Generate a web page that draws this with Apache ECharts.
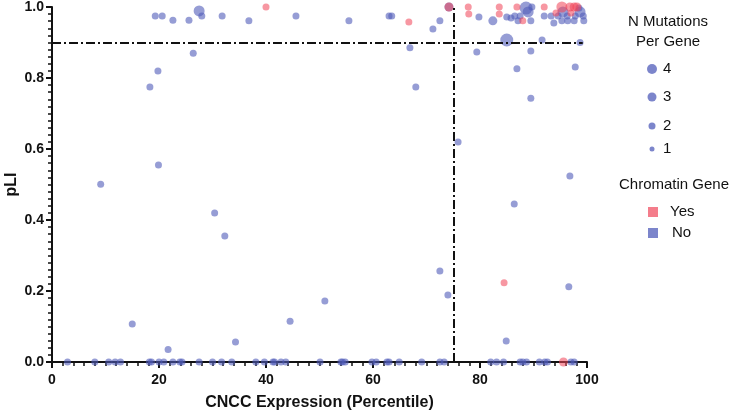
<!DOCTYPE html>
<html><head><meta charset="utf-8">
<script src="https://cdn.jsdelivr.net/npm/echarts@6/dist/echarts.min.js"></script>
<style>html,body{margin:0;padding:0;background:#fff}#c{width:733px;height:413px}</style>
</head><body><div id="c"></div>
<script>
// Chromatin gene = No (blue)
const noX = [19.3,20.6,22.6,25.6,27.5,28.0,31.8,36.8,45.6,55.5,63.0,63.5,72.5,71.2,74.2,
  26.4,19.8,18.3,66.9,68.0,79.4,86.9,89.5,89.5,91.6,98.7,97.8,75.9,96.8,86.4,72.5,96.6,74.0,51.0,84.9,9.1,19.9,30.4,32.3,15.0,34.3,44.5,21.7,
  85.0,
  79.8,82.4,85.0,85.8,86.5,87.5,87.1,88.6,89.0,89.7,89.5,92.0,93.3,93.8,94.6,95.3,95.5,96.3,96.4,97.6,97.8,98.5,98.7,99.3,99.4,
  2.9,8.0,10.6,11.8,12.8,18.2,18.6,20.0,20.9,22.6,23.9,24.3,27.5,30.0,31.7,33.6,38.1,39.7,41.3,41.6,42.8,43.7,
  50.1,54.0,54.3,54.8,59.8,60.6,62.6,63.0,64.9,69.1,72.5,73.3,82.0,83.1,84.4,87.5,88.0,88.7,91.1,92.1,92.6,97.0,97.6];
const noY = [0.975,0.975,0.963,0.963,0.989,0.975,0.975,0.961,0.975,0.961,0.975,0.975,0.961,0.938,1.0,
  0.870,0.820,0.775,0.885,0.775,0.873,0.826,0.876,0.743,0.907,0.900,0.831,0.620,0.524,0.445,0.256,0.212,0.189,0.172,0.059,0.501,0.555,0.420,0.355,0.107,0.056,0.115,0.035,
  0.907,
  0.972,0.961,0.972,0.969,0.975,0.975,0.961,0.997,0.986,1.0,0.961,0.975,0.975,0.955,0.975,0.961,0.986,0.975,0.961,0.961,0.975,0.997,0.986,0.975,0.961,
  0,0,0,0,0,0,0,0,0,0,0,0,0,0,0,0,0,0,0,0,0,0,
  0,0,0,0,0,0,0,0,0,0,0,0,0,0,0,0,0,0,0,0,0,0,0];
const noN = [1,1,1,1,3,1,1,1,1,1,1,1,1,1,2,
  1,1,1,1,1,1,1,1,1,1,1,1,1,1,1,1,1,1,1,1,1,1,1,1,1,1,1,1,
  4,
  1,2,1,1,1,1,1,4,3,1,1,1,1,1,1,1,3,1,1,1,1,1,3,1,1,
  1,1,1,1,1,1,1,1,1,1,1,1,1,1,1,1,1,1,1,1,1,1,
  1,1,1,1,1,1,1,1,1,1,1,1,1,1,1,1,1,1,1,1,1,1,1];
// Chromatin gene = Yes (red)
const yesX = [40.0,66.7,74.2,77.8,77.9,83.6,83.6,84.5,86.9,88.0,92.0,94.2,95.3,96.8,97.0,97.6,98.1,95.6];
const yesY = [1.0,0.958,1.0,1.0,0.98,1.0,0.98,0.223,1.0,0.961,1.0,0.983,1.0,1.0,0.983,1.0,1.0,0];
const yesN = [1,1,2,1,1,1,1,1,1,1,1,1,3,2,1,2,2,2];
const xTicks = [0,20,40,60,80,100];
const yTicks = [0.0,0.2,0.4,0.6,0.8,1.0];
const sizeLegend = [4,3,2,1];
const chromLegend = ['Yes','No'];

const BLUE = 'rgba(80,92,185,0.75)';
const RED = 'rgba(240,70,90,0.7)';
const sizeOf = n => [0,7,9,11,13][n];
const pts = (xs,ys,ns) => xs.map((x,i)=>[x,ys[i],ns[i]]);

const chart = echarts.init(document.getElementById('c'));
const FONT = 'Liberation Sans';
const txt = (x,y,text,align) => ({type:'text',x:x,y:y,style:{text:text,fill:'#111',fontFamily:FONT,fontSize:15,align:align||'left',lineHeight:20}});
const legendCircle = {4:10,3:9,2:7,1:5};
const legendY = {4:69,3:97,2:126,1:149};
const graphics = [];
graphics.push(txt(668,12,'N Mutations\nPer Gene','center'));
sizeLegend.forEach(n=>{
  graphics.push({type:'circle',shape:{cx:652,cy:legendY[n],r:legendCircle[n]/2},style:{fill:BLUE}});
  graphics.push(txt(663,legendY[n]-10,String(n)));
});
graphics.push(txt(674,175,'Chromatin Gene','center'));
graphics.push({type:'rect',shape:{x:648,y:207,width:10,height:10},style:{fill:RED}});
graphics.push(txt(670,202,chromLegend[0]));
graphics.push({type:'rect',shape:{x:648,y:228,width:10,height:10},style:{fill:BLUE}});
graphics.push(txt(672,223,chromLegend[1]));

chart.setOption({
  animation:false,
  grid:{left:52,right:146,top:7,bottom:51,containLabel:false,outerBoundsMode:'none'},
  xAxis:{type:'value',min:xTicks[0],max:xTicks[xTicks.length-1],interval:20,
    name:'CNCC Expression (Percentile)',nameLocation:'middle',nameGap:33,nameMoveOverlap:false,
    nameTextStyle:{fontFamily:FONT,fontWeight:'bold',fontSize:16,color:'#111'},
    axisLine:{lineStyle:{color:'#111',width:2}},
    axisTick:{length:6,lineStyle:{width:2,color:'#111'}},
    minorTick:{show:true,splitNumber:10,length:4,lineStyle:{width:1.5,color:'#111'}},
    axisLabel:{fontFamily:FONT,fontWeight:'bold',fontSize:14,color:'#111',margin:11},
    splitLine:{show:false}},
  yAxis:{type:'value',min:yTicks[0],max:yTicks[yTicks.length-1],interval:0.2,
    name:'pLI',nameLocation:'middle',nameGap:32,nameMoveOverlap:false,
    nameTextStyle:{fontFamily:FONT,fontWeight:'bold',fontSize:16,color:'#111'},
    axisLine:{show:true,lineStyle:{color:'#111',width:2}},
    axisTick:{show:true,length:6,lineStyle:{width:2,color:'#111'}},
    minorTick:{show:true,splitNumber:10,length:4,lineStyle:{width:1.5,color:'#111'}},
    axisLabel:{fontFamily:FONT,fontWeight:'bold',fontSize:14,color:'#111',margin:8,formatter:v=>v.toFixed(1)},
    splitLine:{show:false}},
  series:[
    {type:'scatter',name:'No',data:pts(noX,noY,noN),symbolSize:d=>sizeOf(d[2]),clip:false,
      itemStyle:{color:BLUE},
      markLine:{silent:true,symbol:'none',label:{show:false},
        lineStyle:{color:'#111',width:2,type:[9,3,2,3]},
        data:[[{coord:[0,0.9]},{coord:[99.2,0.9]}],[{coord:[75,0]},{coord:[75,1.0]}]]}},
    {type:'scatter',name:'Yes',data:pts(yesX,yesY,yesN),symbolSize:d=>sizeOf(d[2]),clip:false,
      itemStyle:{color:RED}}
  ],
  graphic:graphics
});
</script></body></html>
